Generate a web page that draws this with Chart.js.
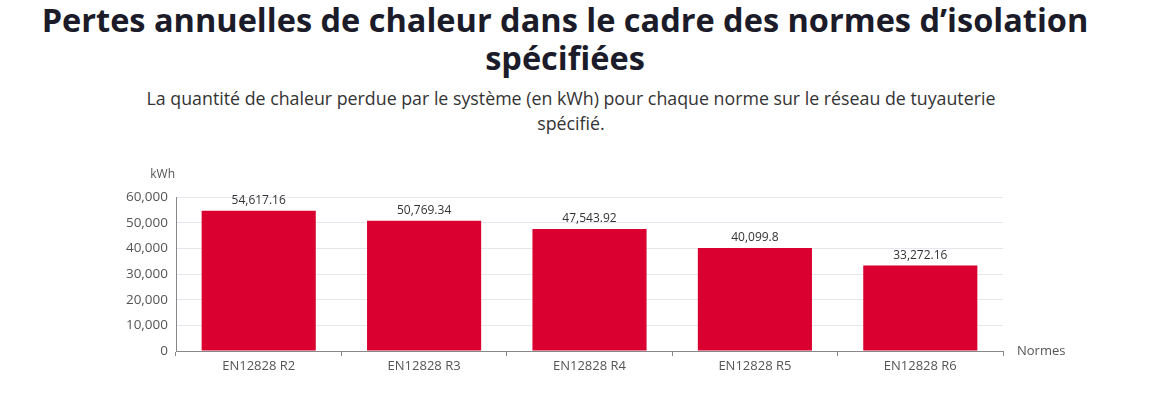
<!DOCTYPE html>
<html lang="fr">
<head>
<meta charset="utf-8">
<script src="https://cdn.jsdelivr.net/npm/chart.js@4/dist/chart.umd.min.js"></script>
<style>
  html, body { margin: 0; padding: 0; background: #fff; }
  body { width: 1163px; height: 406px; position: relative; overflow: hidden; font-family: "Open Sans", sans-serif; }
  h1 {
    position: absolute; left: 0; top: 1px; width: 1130px; margin: 0;
    text-align: center; font-size: 32.5px; line-height: 38px; font-weight: 700; color: #1b1b29;
  }
  .sub {
    position: absolute; left: 0; top: 86px; width: 1142px; margin: 0;
    text-align: center; font-size: 17.8px; line-height: 25px; color: #333;
  }
  #wrap { position: absolute; left: 0; top: 160px; width: 1163px; height: 230px; }
</style>
</head>
<body>
<h1>Pertes annuelles de chaleur dans le cadre des normes d’isolation<br>spécifiées</h1>
<p class="sub">La quantité de chaleur perdue par le système (en kWh) pour chaque norme sur le réseau de tuyauterie<br>spécifié.</p>
<div id="wrap"><canvas id="heatLoss"></canvas></div>
<script>
// chart data
const categories = ['EN12828 R2', 'EN12828 R3', 'EN12828 R4', 'EN12828 R5', 'EN12828 R6'];
const heatLoss = [54617.16, 50769.34, 47543.92, 40099.8, 33272.16];
const yTicks = [0, 10000, 20000, 30000, 40000, 50000, 60000];

const fmt = v => v.toLocaleString('en-US', { maximumFractionDigits: 2 });

// value labels over bars + axis titles
const barLabels = {
  id: 'barLabels',
  afterDatasetsDraw(chart) {
    const ctx = chart.ctx;
    const meta = chart.getDatasetMeta(0);
    ctx.save();
    ctx.font = '12px "Open Sans", sans-serif';
    ctx.fillStyle = '#333';
    ctx.textAlign = 'center';
    ctx.textBaseline = 'bottom';
    meta.data.forEach((bar, i) => {
      ctx.fillText(fmt(heatLoss[i]), bar.x, bar.y - 4);
    });

    const x = chart.scales.x, y = chart.scales.y;
    ctx.fillStyle = '#555';
    ctx.font = '12px "Open Sans", sans-serif';
    ctx.textAlign = 'right';
    ctx.textBaseline = 'middle';
    ctx.fillText('kWh', x.left - 1, y.top - 22);
    ctx.textAlign = 'left';
    ctx.font = '13px "Open Sans", sans-serif';
    ctx.fillText('Normes', x.right + 14, y.bottom);
    ctx.restore();
  }
};

new Chart(document.getElementById('heatLoss'), {
  type: 'bar',
  data: {
    labels: categories,
    datasets: [
      {
        label: 'kWh',
        data: heatLoss,
        backgroundColor: '#da0030',
        borderWidth: 0,
        categoryPercentage: 1,
        barPercentage: 0.69
      }
    ]
  },
  options: {
    responsive: true,
    maintainAspectRatio: false,
    animation: false,
    layout: {
      padding: { left: 100, right: 160, top: 37, bottom: 0 }
    },
    plugins: {
      legend: { display: false },
      tooltip: { enabled: false }
    },
    scales: {
      x: {
        grid: {
          offset: true,
          drawOnChartArea: false,
          drawTicks: true,
          tickLength: 5,
          color: '#888'
        },
        border: { color: '#888', width: 1 },
        ticks: {
          color: '#555',
          font: { family: 'Open Sans', size: 13 },
          padding: 2
        },
        afterFit(scale) { scale.height = 39; }
      },
      y: {
        min: 0,
        max: 60000,
        afterBuildTicks(scale) { scale.ticks = yTicks.map(v => ({ value: v })); },
        grid: { color: '#e6e6ef', drawTicks: false },
        border: { color: '#888', width: 1 },
        ticks: {
          color: '#555',
          font: { family: 'Open Sans', size: 13.5 },
          padding: 8,
          callback: v => fmt(v)
        },
        afterFit(scale) { scale.width = 76; }
      }
    }
  },
  plugins: [barLabels]
});
</script>
</body>
</html>
